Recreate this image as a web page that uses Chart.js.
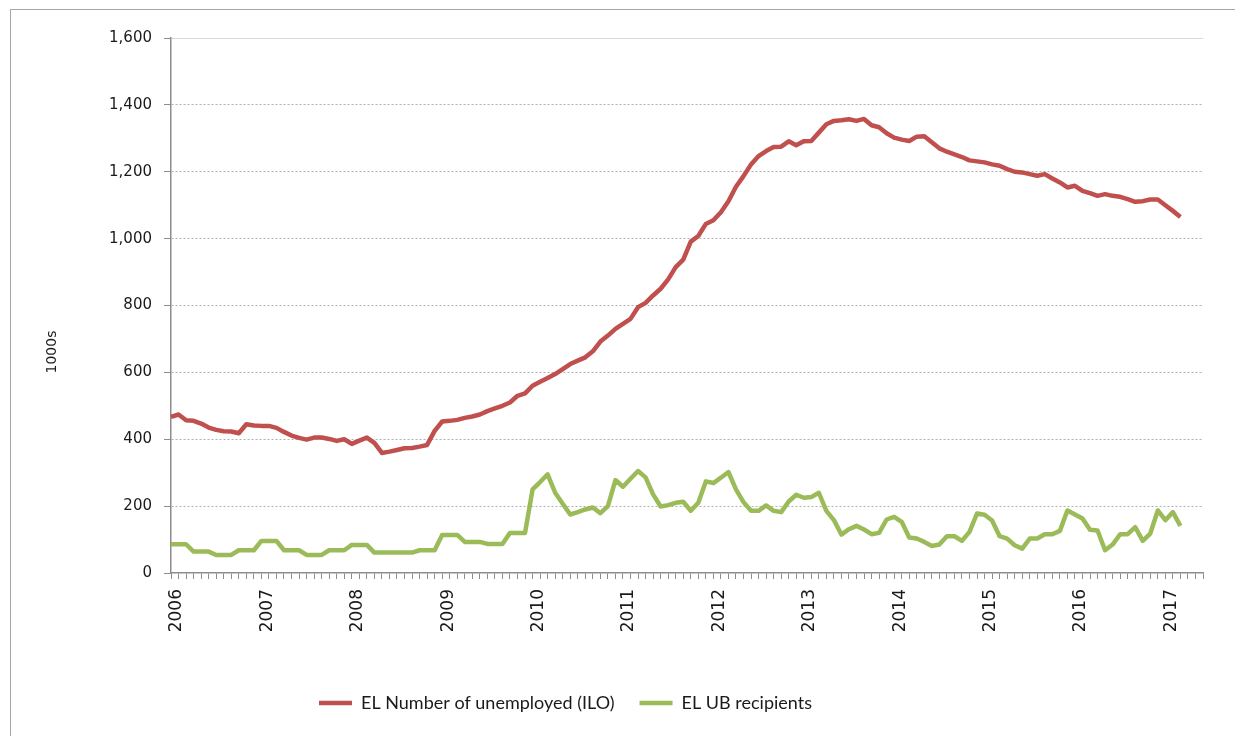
<!DOCTYPE html>
<html>
<head>
<meta charset="utf-8">
<title>EL unemployed vs UB recipients</title>
<script src="https://cdn.jsdelivr.net/npm/chart.js@4.4.1/dist/chart.umd.min.js"></script>
<style>
    html, body { margin: 0; padding: 0; background: #fff; overflow: hidden; }
    #wrap { position: relative; width: 1235px; height: 736px; }
    #frame {
        position: absolute; left: 10px; top: 9px; width: 1400px; height: 900px;
        border-left: 1px solid #a6a6a6; border-top: 1px solid #a6a6a6;
    }
    #chartCanvas { position: absolute; left: 0; top: 0; }
</style>
</head>
<body>
<div id="wrap">
    <div id="frame"></div>
    <canvas id="chartCanvas" width="1235" height="736"></canvas>
</div>
<script>
// --- Data ---
const years = ['2006', '2007', '2008', '2009', '2010', '2011', '2012', '2013', '2014', '2015', '2016', '2017'];
const monthCount = 138; // Jan 2006 .. Jun 2017 on the axis

// EL Number of unemployed (ILO), 1000s, monthly Jan 2006 - Mar 2017
const unemployed = [
    467, 474, 457, 455, 447, 435, 428, 424, 423, 418, 445, 441,
    440, 440, 434, 422, 411, 404, 399, 405, 405, 401, 395, 400,
    386, 396, 405, 389, 359, 363, 368, 373, 374, 378, 383, 425,
    453, 455, 458, 464, 468, 474, 484, 492, 500, 510, 530, 537,
    560, 572, 583, 595, 610, 625, 635, 645, 663, 692, 710, 730,
    745, 760, 795, 808, 830, 850, 878, 915, 937, 991, 1008, 1044,
    1055, 1079, 1112, 1155, 1187, 1222, 1247, 1262, 1274, 1275, 1291, 1279,
    1291, 1292, 1317, 1342, 1352, 1354, 1357, 1352, 1358, 1339, 1333, 1315,
    1302, 1296, 1292, 1305, 1306, 1288, 1270, 1260, 1252, 1244, 1234, 1231,
    1228, 1222, 1218, 1208, 1200, 1198, 1193, 1188, 1193, 1180, 1168, 1153,
    1158, 1143, 1136, 1128, 1133, 1128, 1125, 1118, 1110, 1112, 1117, 1117,
    1100, 1083, 1065
];

// EL UB recipients, 1000s
const ubRecipients = [
    86, 86, 86, 64, 64, 64, 54, 54, 54, 68, 68, 68,
    96, 96, 96, 68, 68, 68, 54, 54, 54, 68, 68, 68,
    84, 84, 84, 61, 61, 61, 61, 61, 61, 68, 68, 68,
    114, 114, 114, 93, 93, 93, 87, 87, 87, 120, 120, 120,
    250, 272, 295, 240, 207, 175, 182, 190, 196, 179, 200, 278,
    258, 282, 305, 286, 235, 199, 203, 210, 213, 186, 210, 274,
    269, 285, 302, 250, 212, 186, 186, 202, 186, 182, 214, 234,
    225, 227, 240, 186, 158, 115, 131, 141, 130, 116, 120, 160,
    168, 153, 106, 103, 93, 81, 85, 110, 110, 96, 123, 178,
    174, 157, 110, 103, 83, 73, 103, 103, 116, 116, 126, 187,
    175, 163, 129, 127, 68, 85, 116, 116, 137, 96, 118, 187,
    158, 182, 141
];

const seriesNames = ['EL Number of unemployed (ILO)', 'EL UB recipients'];
const seriesColors = ['#c0504d', '#9bbb59'];
const yTitle = '1000s';
const yMax = 1600;
const yStep = 200;

// category labels: one per month
const months = [];
for (let i = 0; i < monthCount; i++) {
    const y = years[Math.floor(i / 12)] || String(2006 + Math.floor(i / 12));
    months.push(y + '-' + String(i % 12 + 1).padStart(2, '0'));
}

// --- Layout helpers ---
const LEGEND_LEFT = 319;   // where the first legend swatch starts
const LEGEND_TOP = 669;

const legendPlacer = {
    id: 'legendPlacer',
    afterLayout(chart) {
        const lg = chart.legend;
        if (!lg) return;
        lg.left = LEGEND_LEFT - lg.options.labels.padding;
        lg.top = LEGEND_TOP;
    }
};

// the value axis title sits a little below the middle of the axis in the original
const yTitlePlugin = {
    id: 'yTitlePlugin',
    afterDraw(chart) {
        const c = chart.ctx;
        c.save();
        c.translate(52, 352);
        c.rotate(-Math.PI / 2);
        c.fillStyle = '#1a1a1a';
        c.font = '14px "DejaVu Sans"';
        c.textAlign = 'center';
        c.textBaseline = 'middle';
        c.fillText(yTitle, 0, 0);
        c.restore();
    }
};

// --- Chart ---
const ctx = document.getElementById('chartCanvas').getContext('2d');

new Chart(ctx, {
    type: 'line',
    data: {
        labels: months,
        datasets: [
            {
                label: seriesNames[0],
                data: unemployed,
                borderColor: seriesColors[0],
                backgroundColor: seriesColors[0],
                borderWidth: 4.5,
                pointRadius: 0,
                tension: 0,
                borderJoinStyle: 'round',
                fill: false
            },
            {
                label: seriesNames[1],
                data: ubRecipients,
                borderColor: seriesColors[1],
                backgroundColor: seriesColors[1],
                borderWidth: 4.5,
                pointRadius: 0,
                tension: 0,
                borderJoinStyle: 'round',
                fill: false
            }
        ]
    },
    options: {
        responsive: false,
        animation: false,
        layout: { padding: { top: 38, left: 0, right: 32, bottom: 0 } },
        scales: {
            x: {
                type: 'category',
                offset: false,
                grid: {
                    drawOnChartArea: false,
                    drawTicks: true,
                    tickLength: 6,
                    tickColor: '#8c8c8c',
                    offset: false
                },
                border: { color: '#8c8c8c', width: 1.5 },
                ticks: {
                    autoSkip: false,
                    minRotation: 90,
                    maxRotation: 90,
                    padding: 10,
                    labelOffset: 6,
                    color: '#1a1a1a',
                    font: { family: 'DejaVu Sans', size: 17 },
                    callback: (val, index) => index % 12 === 0 ? years[index / 12] : ''
                },
                afterFit: (scale) => { scale.height = 110; }
            },
            y: {
                min: 0,
                max: yMax,
                grid: {
                    color: (c) => (c.tick && c.tick.value === 0) ? 'rgba(0,0,0,0)' : (c.tick && c.tick.value === yMax ? '#d9d9d9' : '#b0b0b0'),
                    tickColor: '#8c8c8c',
                    tickLength: 7,
                    lineWidth: 1
                },
                border: {
                    color: '#8c8c8c',
                    width: 1.5,
                    dash: (c) => (c.tick && c.tick.value === yMax) ? [] : [2, 2]
                },
                ticks: {
                    stepSize: yStep,
                    padding: 12,
                    color: '#1a1a1a',
                    font: { family: 'DejaVu Sans', size: 15 },
                    callback: (v) => v.toLocaleString('en-US')
                },
                title: { display: false },
                afterFit: (scale) => { scale.width = 171; }
            }
        },
        plugins: {
            legend: {
                position: 'bottom',
                align: 'start',
                labels: {
                    usePointStyle: true,
                    pointStyle: 'line',
                    pointStyleWidth: 33,
                    padding: 25,
                    color: '#1a1a1a',
                    font: { family: 'Lato', size: 18 }
                }
            },
            tooltip: { enabled: false }
        }
    },
    plugins: [legendPlacer, yTitlePlugin]
});
</script>
</body>
</html>
